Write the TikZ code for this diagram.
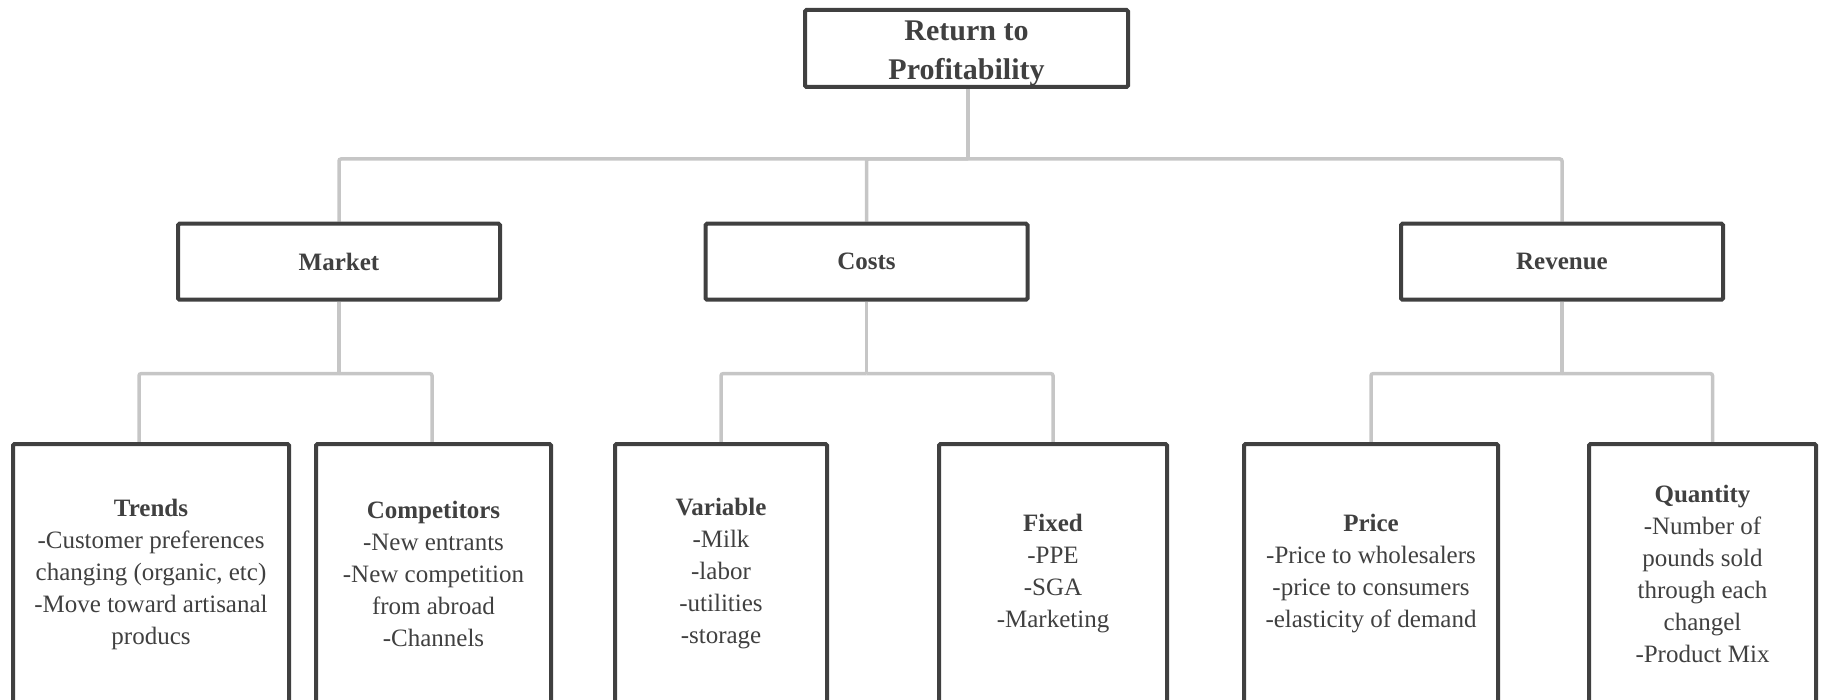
\documentclass[tikz,border=0pt]{standalone}
\usepackage{fontspec}
\setmainfont{Liberation Serif}
\usetikzlibrary{backgrounds}
\definecolor{boxline}{HTML}{404040}
\definecolor{conn}{HTML}{C6C6C6}
\definecolor{txt}{HTML}{404040}
\begin{document}
\begin{tikzpicture}[x=1pt,y=-1pt,
  box/.style={draw=boxline, line width=4pt, rounded corners=1.5pt, fill=white, text=txt, align=center, inner sep=0pt},
  rootbox/.style={box, minimum width=323pt, minimum height=77pt},
  roottext/.style={text=txt, align=center, inner sep=0pt, font=\fontsize{30}{39}\selectfont\bfseries},
  midbox/.style={box, minimum width=322pt, minimum height=76pt, font=\fontsize{25}{32}\selectfont\bfseries},
  leafbox/.style={box, minimum height=290pt},
  leaftext/.style={text=txt, align=center, inner sep=0pt, font=\fontsize{25}{32}\selectfont},
  link/.style={draw=conn, line width=3.5pt, rounded corners=2pt}]
\useasboundingbox (0,0) rectangle (1822,700);

\node[rootbox] (root) at (966.5,48.5) {};
\node[roottext] (roott) at (966.5,53.5) {Return to\\Profitability};

\node[midbox] (market) at (339,261.7) {Market};
\node[midbox] (costs) at (866.5,261.7) {Costs};
\node[midbox] (revenue) at (1562,261.7) {Revenue};

\node[leafbox, minimum width=276pt] (trends) at (151,589) {};
\node[leafbox, minimum width=235pt] (comp) at (433.5,589) {};
\node[leafbox, minimum width=212pt] (var) at (721,589) {};
\node[leafbox, minimum width=228pt] (fixed) at (1053,589) {};
\node[leafbox, minimum width=254pt] (price) at (1371,589) {};
\node[leafbox, minimum width=227pt] (qty) at (1702.5,589) {};

\node[leaftext] (trendst) at (151,574) {\textbf{Trends}\\-Customer preferences\\changing (organic, etc)\\-Move toward artisanal\\producs};
\node[leaftext] (compt) at (433.5,574) {\textbf{Competitors}\\-New entrants\\-New competition\\from abroad\\-Channels};
\node[leaftext] (vart) at (721,574) {\textbf{Variable}\\-Milk\\-labor\\-utilities\\-storage};
\node[leaftext] (fixedt) at (1053,574) {\textbf{Fixed}\\-PPE\\-SGA\\-Marketing};
\node[leaftext] (pricet) at (1371,574) {\textbf{Price}\\-Price to wholesalers\\-price to consumers\\-elasticity of demand};
\node[leaftext] (qtyt) at (1702.5,574) {\textbf{Quantity}\\-Number of\\pounds sold\\through each\\changel\\-Product Mix};

\begin{pgfonlayer}{background}
\draw[link] ([xshift=1.5pt]root.south) -- ++(0,70) coordinate (rb);
\draw[link] (rb) -| (market.north);
\draw[link] (rb) -| (costs.north);
\draw[link] (rb) -| (revenue.north);
\draw[link] (market.south) -- ++(0,72) coordinate (mb);
\draw[link] (mb) -| ([xshift=-12pt]trends.north);
\draw[link] (mb) -| ([xshift=-1.5pt]comp.north);
\draw[link] (costs.south) -- ++(0,72) coordinate (cb);
\draw[link] (cb) -| (var.north);
\draw[link] (cb) -| (fixed.north);
\draw[link] (revenue.south) -- ++(0,72) coordinate (revb);
\draw[link] (revb) -| (price.north);
\draw[link] (revb) -| ([xshift=10pt]qty.north);
\end{pgfonlayer}
\end{tikzpicture}
\end{document}
